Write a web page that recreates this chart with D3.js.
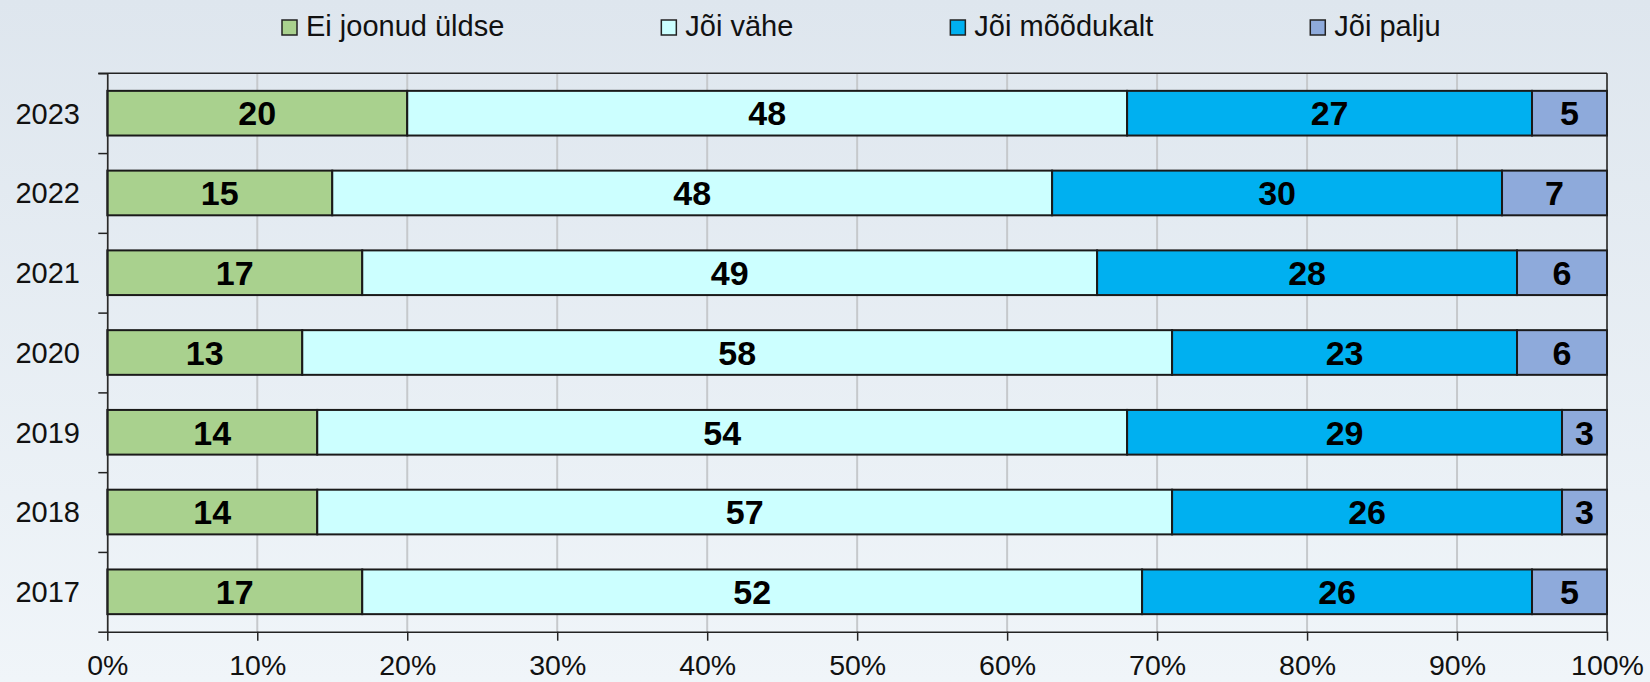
<!DOCTYPE html>
<html>
<head>
<meta charset="utf-8">
<script src="https://cdn.jsdelivr.net/npm/d3@7"></script>
<style>
  body { margin: 0; }
  svg { display: block; font-family: "Liberation Sans", Arial, sans-serif; }
</style>
</head>
<body>
<div id="chart"></div>
<script>
// data (percent of respondents)
var years = ["2023", "2022", "2021", "2020", "2019", "2018", "2017"];
var seriesNames = ["Ei joonud üldse", "Jõi vähe", "Jõi mõõdukalt", "Jõi palju"];
var eiJoonud   = [20, 15, 17, 13, 14, 14, 17];
var joiVahe    = [48, 48, 49, 58, 54, 57, 52];
var joiMoodukalt = [27, 30, 28, 23, 29, 26, 26];
var joiPalju   = [5, 7, 6, 6, 3, 3, 5];
var xTicks = [0, 10, 20, 30, 40, 50, 60, 70, 80, 90, 100];

var colors = ["#a9d18e", "#ccffff", "#00b0f0", "#8eaadb"];

var W = 1650, H = 682;
var margin = {top: 73.3, right: 43, bottom: 50.3, left: 107.3};

var svg = d3.select("#chart")
    .append("svg")
    .attr("width", W)
    .attr("height", H);

// background gradient
var grad = svg.append("defs").append("linearGradient")
    .attr("id", "bg").attr("x1", 0).attr("y1", 0).attr("x2", 0).attr("y2", 1);
grad.append("stop").attr("offset", "0%").attr("stop-color", "#dee6ee");
grad.append("stop").attr("offset", "100%").attr("stop-color", "#f0f5f9");
svg.append("rect").attr("width", W).attr("height", H).attr("fill", "url(#bg)");

var table = years.map(function(y, i) {
    return {year: y, s0: eiJoonud[i], s1: joiVahe[i], s2: joiMoodukalt[i], s3: joiPalju[i]};
});
var keys = ["s0", "s1", "s2", "s3"];
var stacked = d3.stack().keys(keys)(table);

var x = d3.scaleLinear()
    .domain([0, 100])
    .range([margin.left, W - margin.right]);

var y = d3.scaleBand()
    .domain(years)
    .range([margin.top, H - margin.bottom])
    .paddingInner(0.44)
    .paddingOuter(0.22);

// edges of the category bands, for the left tick marks
var yEdge = d3.scaleLinear()
    .domain([0, years.length])
    .range([margin.top, H - margin.bottom]);

// gridlines
svg.append("g")
    .selectAll("line")
    .data(xTicks)
    .enter()
    .append("line")
    .attr("x1", function(d) { return x(d); })
    .attr("x2", function(d) { return x(d); })
    .attr("y1", margin.top)
    .attr("y2", H - margin.bottom)
    .attr("stroke", "#c6c9cc")
    .attr("stroke-width", 2);

// bars
var groups = svg.append("g")
    .selectAll("g")
    .data(stacked)
    .enter()
    .append("g")
    .attr("fill", function(d, i) { return colors[i]; });

groups.selectAll("rect")
    .data(function(d) { return d; })
    .enter()
    .append("rect")
    .attr("x", function(d) { return x(d[0]); })
    .attr("y", function(d) { return y(d.data.year); })
    .attr("width", function(d) { return x(d[1]) - x(d[0]); })
    .attr("height", y.bandwidth())
    .attr("stroke", "#1a1a1a")
    .attr("stroke-width", 2);

// value labels
groups.selectAll("text")
    .data(function(d) { return d; })
    .enter()
    .append("text")
    .attr("x", function(d) { return (x(d[0]) + x(d[1])) / 2; })
    .attr("y", function(d) { return y(d.data.year) + y.bandwidth() / 2; })
    .attr("dy", "0.36em")
    .attr("text-anchor", "middle")
    .attr("fill", "#000")
    .style("font-weight", "bold")
    .style("font-size", "34px")
    .text(function(d) { return d[1] - d[0]; });

// frame: top and right
svg.append("line")
    .attr("x1", margin.left - 9).attr("x2", x(100))
    .attr("y1", margin.top).attr("y2", margin.top)
    .attr("stroke", "#222").attr("stroke-width", 1.5);
svg.append("line")
    .attr("x1", x(100)).attr("x2", x(100))
    .attr("y1", margin.top).attr("y2", H - margin.bottom)
    .attr("stroke", "#222").attr("stroke-width", 1.5);

// x axis
var xAxis = svg.append("g")
    .attr("transform", "translate(0," + (H - margin.bottom) + ")")
    .call(d3.axisBottom(x).tickValues(xTicks).tickSize(9).tickSizeOuter(0)
        .tickFormat(function(d) { return d + "%"; }));
xAxis.select(".domain").attr("stroke", "#222").attr("stroke-width", 1.5);
xAxis.selectAll(".tick line").attr("stroke", "#222").attr("stroke-width", 1.5);
xAxis.selectAll("text")
    .attr("y", 43.5)
    .attr("dy", 0)
    .attr("fill", "#111")
    .style("font-size", "28.5px")
    .style("font-family", "Liberation Sans, Arial, sans-serif");

// y axis (ticks at band edges)
var yAxis = svg.append("g")
    .attr("transform", "translate(" + margin.left + ",0)")
    .call(d3.axisLeft(yEdge).tickValues(d3.range(years.length + 1)).tickSize(9)
        .tickSizeOuter(0).tickFormat(""));
yAxis.select(".domain").attr("stroke", "#222").attr("stroke-width", 1.5);
yAxis.selectAll(".tick line").attr("stroke", "#222").attr("stroke-width", 1.5);

svg.append("g")
    .selectAll("text")
    .data(years)
    .enter()
    .append("text")
    .attr("x", 80)
    .attr("y", function(d) { return y(d) + y.bandwidth() / 2; })
    .attr("dy", "0.36em")
    .attr("text-anchor", "end")
    .attr("fill", "#111")
    .style("font-size", "29px")
    .text(function(d) { return d; });

// legend
var legend = svg.append("g");
var lx = 282;
seriesNames.forEach(function(name, i) {
    var item = legend.append("g").attr("transform", "translate(" + lx + ",0)");
    item.append("rect")
        .attr("x", 0).attr("y", 20)
        .attr("width", 15).attr("height", 15)
        .attr("fill", colors[i])
        .attr("stroke", "#222")
        .attr("stroke-width", 1.5);
    var t = item.append("text")
        .attr("x", 24).attr("y", 36)
        .attr("fill", "#111")
        .style("font-size", "29px")
        .text(name);
    lx += 24 + t.node().getComputedTextLength() + 157;
});
</script>
</body>
</html>
